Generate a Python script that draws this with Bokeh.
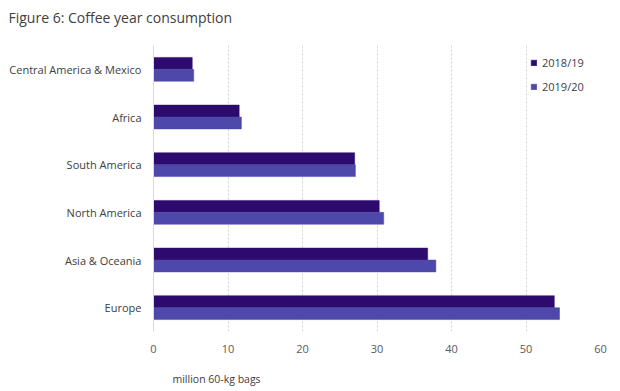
from bokeh.plotting import figure
from bokeh.models import FactorRange, Legend, LegendItem, Title, ColumnDataSource, FixedTicker
from bokeh.transform import dodge
from bokeh.embed import file_html
from bokeh.resources import INLINE

regions = ["Europe", "Asia & Oceania", "North America", "South America", "Africa", "Central America & Mexico"]
y2018 = [53.8, 36.8, 30.3, 27.0, 11.5, 5.2]
y2019 = [54.5, 37.9, 30.9, 27.1, 11.8, 5.4]
series = ["2018/19", "2019/20"]
colors = ["#2C0A6E", "#4E48AA"]
xticks = [0, 10, 20, 30, 40, 50, 60]

src = ColumnDataSource(dict(region=regions, a=y2018, b=y2019))

p = figure(width=620, height=391, output_backend="svg", toolbar_location=None,
           y_range=FactorRange(factors=regions, range_padding=0), x_range=(0, 60),
           min_border_left=153, min_border_right=20, min_border_top=45, min_border_bottom=60)

r1 = p.hbar(y=dodge("region", 0.125, range=p.y_range), right="a", left=0, height=0.25,
            source=src, fill_color=colors[0], line_color=colors[0], line_width=0.5)
r2 = p.hbar(y=dodge("region", -0.125, range=p.y_range), right="b", left=0, height=0.25,
            source=src, fill_color=colors[1], line_color=colors[1], line_width=0.5)

p.title.text = "Figure 6: Coffee year consumption"
p.title.text_font = "Open Sans"
p.title.text_font_size = "14px"
p.title.text_font_style = "normal"
p.title.text_color = "#404040"
p.title.offset = -145
p.title.standoff = 10

spacer = Title(text=" ", text_font_size="2px", standoff=10)
p.add_layout(spacer, "above")

p.outline_line_color = None
p.ygrid.grid_line_color = None
p.xgrid.grid_line_color = "#d0d0d0"
p.xgrid.grid_line_dash = "2 2"
p.xaxis.ticker = FixedTicker(ticks=xticks)
p.xaxis.axis_line_color = None
p.xaxis.major_tick_line_color = None
p.xaxis.minor_tick_line_color = None
p.xaxis.major_label_text_font = "Open Sans"
p.xaxis.major_label_text_font_size = "11px"
p.xaxis.major_label_text_color = "#595959"
p.xaxis.major_label_standoff = 7

p.yaxis.axis_line_color = "#d9d9d9"
p.yaxis.major_tick_line_color = None
p.yaxis.major_label_text_font = "Open Sans"
p.yaxis.major_label_text_font_size = "11px"
p.yaxis.major_label_text_color = "#404040"
p.yaxis.major_label_standoff = 6

spacer2 = Title(text=" ", text_font_size="2px", standoff=8)
p.add_layout(spacer2, "below")
xlab = Title(text="million 60-kg bags", align="left", offset=19, standoff=4,
             text_font="Open Sans", text_font_size="10.5px", text_font_style="normal",
             text_color="#404040")
p.add_layout(xlab, "below")

legend = Legend(items=[LegendItem(label=series[0], renderers=[r1]),
                       LegendItem(label=series[1], renderers=[r2])],
                location=(377, 237), glyph_width=7, glyph_height=7, label_standoff=5,
                spacing=9, label_height=14, padding=0, margin=0,
                label_text_font="Open Sans", label_text_font_size="11px",
                label_text_color="#404040", border_line_color=None, background_fill_alpha=0)
p.add_layout(legend)

open("out.html", "w").write(file_html(p, INLINE))
